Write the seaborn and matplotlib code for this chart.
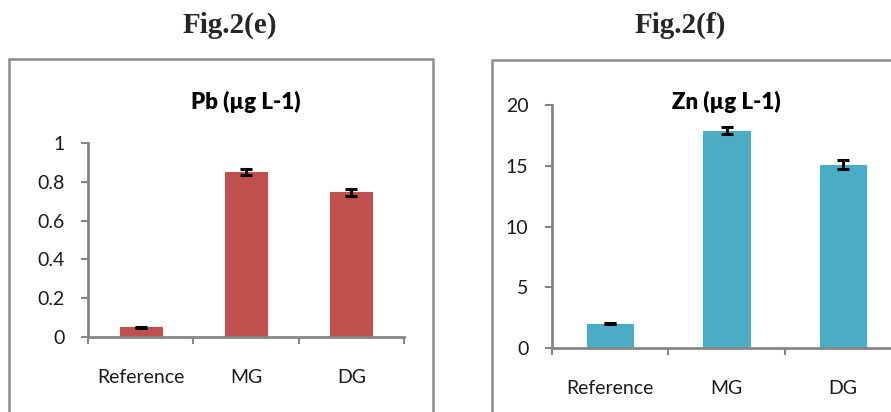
import matplotlib
matplotlib.use("Agg")
import matplotlib.pyplot as plt
import matplotlib.patches as mpatches
from matplotlib.ticker import FuncFormatter
import pandas as pd
import seaborn as sns

sites = ["Reference", "MG", "DG"]
pb_mean = [0.05, 0.85, 0.745]
pb_err = [0.004, 0.016, 0.016]
zn_mean = [2.0, 17.9, 15.1]
zn_err = [0.06, 0.25, 0.4]

sns.set_theme(style="white")
plt.rcParams["font.family"] = ["Lato", "DejaVu Sans"]

AXIS_GREY = "#868686"


def excel_fmt(v, _pos):
    return f"{v:g}"


def draw_panel(fig, rect, values, errors, color, title, ymax, step, title_y):
    ax = fig.add_axes(rect)
    df = pd.DataFrame({"site": sites, "value": values})
    sns.barplot(data=df, x="site", y="value", color=color, width=0.4,
                errorbar=None, saturation=1, edgecolor=color, linewidth=0.8, ax=ax)
    ax.errorbar(range(len(sites)), values, yerr=errors, fmt="none",
                ecolor="black", elinewidth=2.2, capsize=4, capthick=2.2)
    ax.set_xlim(-0.5, 2.5)
    ax.set_ylim(0, ymax)
    ax.set_yticks([i * step for i in range(int(round(ymax / step)) + 1)])
    ax.yaxis.set_major_formatter(FuncFormatter(excel_fmt))
    ax.set_xticks([-0.5, 0.5, 1.5, 2.5])
    ax.set_xticklabels([])
    ax.set_xticks(range(len(sites)), minor=True)
    ax.set_xticklabels(sites, minor=True)
    ax.tick_params(axis="x", which="major", bottom=True, direction="out", length=5,
                   width=1.5, color=AXIS_GREY)
    ax.tick_params(axis="x", which="minor", bottom=False, length=0, pad=23,
                   labelsize=14, labelcolor="#1a1a1a")
    ax.tick_params(axis="y", left=True, direction="out", length=5, width=1.5,
                   color=AXIS_GREY, labelsize=14, labelcolor="#1a1a1a", pad=12)
    ax.set_xlabel("")
    ax.set_ylabel("")
    for side in ["top", "right"]:
        ax.spines[side].set_visible(False)
    for side in ["left", "bottom"]:
        ax.spines[side].set_color(AXIS_GREY)
        ax.spines[side].set_linewidth(2)
    ax.set_title(title, fontsize=16, fontweight="heavy", y=title_y, color="black")
    return ax


fig = plt.figure(figsize=(8.91, 4.12), dpi=100)

# outer chart frames
fig.patches.append(mpatches.Rectangle((9 / 891, -0.05), 424 / 891, 1 - 59 / 412 + 0.05,
                                      transform=fig.transFigure, fill=False,
                                      edgecolor="#8c8c8c", linewidth=1.8))
fig.patches.append(mpatches.Rectangle((492 / 891, -0.05), 0.5, 1 - 60 / 412 + 0.05,
                                      transform=fig.transFigure, fill=False,
                                      edgecolor="#8c8c8c", linewidth=1.8))

draw_panel(fig, [88 / 891, 1 - 337 / 412, 316 / 891, 194 / 412],
           pb_mean, pb_err, "#C0504D", "Pb (µg L-1)", 1.0, 0.2, 1.13)
draw_panel(fig, [552 / 891, 1 - 348 / 412, 349 / 891, 243 / 412],
           zn_mean, zn_err, "#4BACC6", "Zn (µg L-1)", 20, 5, 0.95)

fig.text(230 / 891, 1 - 25 / 412, "Fig.2(e)", ha="center", va="center",
         fontsize=21, fontweight="bold", family=["Liberation Serif", "DejaVu Serif"])
fig.text(680 / 891, 1 - 25 / 412, "Fig.2(f)", ha="center", va="center",
         fontsize=21, fontweight="bold", family=["Liberation Serif", "DejaVu Serif"])

fig.savefig("out.png", dpi=100)
